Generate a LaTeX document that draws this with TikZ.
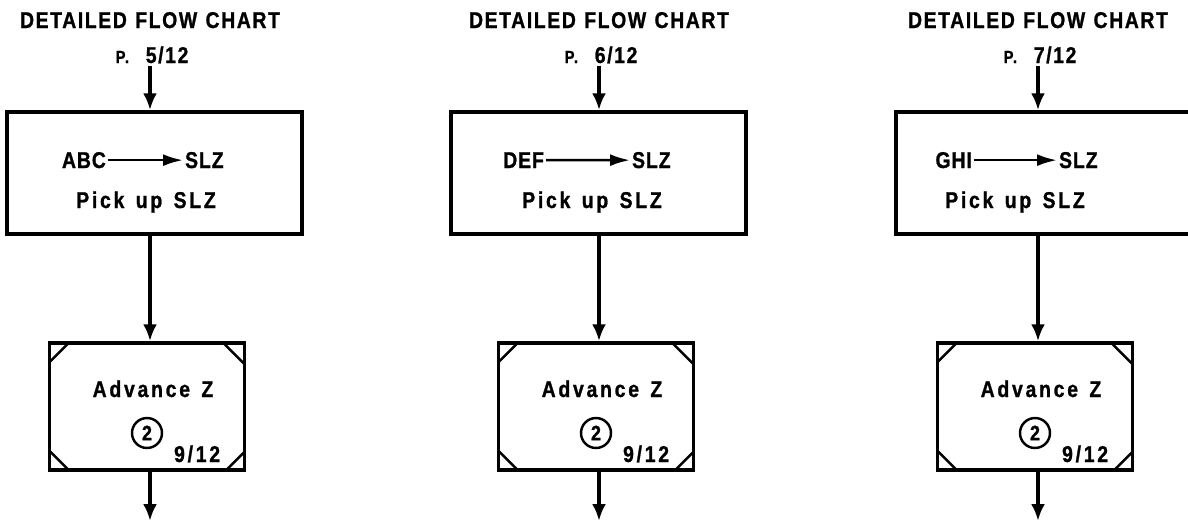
\documentclass[tikz,border=0pt]{standalone}
\usepackage{fontspec}
\setmainfont{Liberation Sans}
\newfontfamily\stretto{Liberation Sans}[FakeStretch=0.85, LetterSpace=4, FakeBold=1]
\newfontfamily\testata{Liberation Sans}[FakeStretch=0.85, LetterSpace=7, WordSpace=1.2, FakeBold=1]
\newfontfamily\largo{Liberation Sans}[FakeStretch=0.85, LetterSpace=12, WordSpace=1.4, FakeBold=1]
\usetikzlibrary{positioning, calc, arrows.meta}
\tikzset{
  freccia/.style={-{Latex[length=3.4mm, width=2.8mm]}, line width=2pt},
  freccina/.style={-{Latex[length=4mm, width=2.4mm]}, line width=1.5pt},
  scatola/.style={draw, line width=2pt, minimum width=5.9cm, minimum height=2.44cm},
  avanza/.style={draw, line width=2pt, minimum width=3.9cm, minimum height=2.54cm,
    path picture={
      \draw[line width=1.4pt] ($(path picture bounding box.north west)+(0cm,-0.38cm)$) -- ++(0.38cm,0.38cm);
      \draw[line width=1.4pt] ($(path picture bounding box.north east)+(-0.42cm,0cm)$) -- ++(0.42cm,-0.42cm);
      \draw[line width=1.4pt] ($(path picture bounding box.south west)+(0cm,0.38cm)$) -- ++(0.38cm,-0.38cm);
      \draw[line width=1.4pt] ($(path picture bounding box.south east)+(-0.36cm,0cm)$) -- ++(0.36cm,0.36cm);
    }},
  titolo/.style={font=\testata\bfseries\fontsize{13}{15}\selectfont, inner sep=1pt},
  riga/.style={font=\stretto\bfseries\fontsize{13}{15}\selectfont, inner sep=1pt},
  testo/.style={font=\largo\bfseries\fontsize{13}{15}\selectfont, inner sep=1pt},
  cerchio/.style={draw, circle, line width=1.4pt, minimum size=0.6cm, inner sep=0pt,
    font=\stretto\bfseries\fontsize{12}{13}\selectfont}
}
\begin{document}
\begin{tikzpicture}[x=0.02cm, y=-0.02cm]
    %cornice
    \useasboundingbox (0,0) rectangle (1188,522);
    \foreach \col/\cx/\bx/\src/\sx/\ex/\px/\pg in {1/150/154.5/ABC/108/183/146/5, 2/599/598.5/DEF/546/630/592/6, 3/1038/1043.5/GHI/974/1057/1015/7}{
        %asse della colonna
        \coordinate (asse\col) at (\cx,0);
        \coordinate (uscita\col) at (\cx,521);
        %intestazione
        \node[titolo, anchor=base] (tit\col) at (\cx,28) {DETAILED FLOW CHART};
        \node[titolo, anchor=base] (pag\col) at (\cx+2,63) {{\fontsize{10}{11}\selectfont P.}~~\pg/12};
        %blocco pick up
        \node[scatola] (pick\col) at (\bx,173) {};
        \node[riga, anchor=base east] (sorg\col) at (\sx,168) {\src};
        \node[riga, anchor=base west] (dest\col) at (\ex,168) {SLZ};
        \draw[freccina] (sorg\col) -- (dest\col);
        \node[testo, anchor=base] (nota\col) at (\px,208) {Pick up SLZ};
        %blocco advance
        \node[avanza] (adv\col) at (\cx-3,406.5) {};
        \node[testo, anchor=base] (azione\col) at (\cx+3,397) {Advance Z};
        \node[cerchio] (conn\col) at (\cx-3,433) {2};
        \node[testo, anchor=base west] (rif\col) at (\cx+22,462) {9/12};
        %frecce
        \draw[freccia] (pag\col.south -| asse\col) -- (pick\col.north -| asse\col);
        \draw[freccia] (pick\col.south -| asse\col) -- (adv\col.north -| asse\col);
        \draw[freccia] (adv\col.south -| asse\col) -- (uscita\col);
    }
\end{tikzpicture}
\end{document}
